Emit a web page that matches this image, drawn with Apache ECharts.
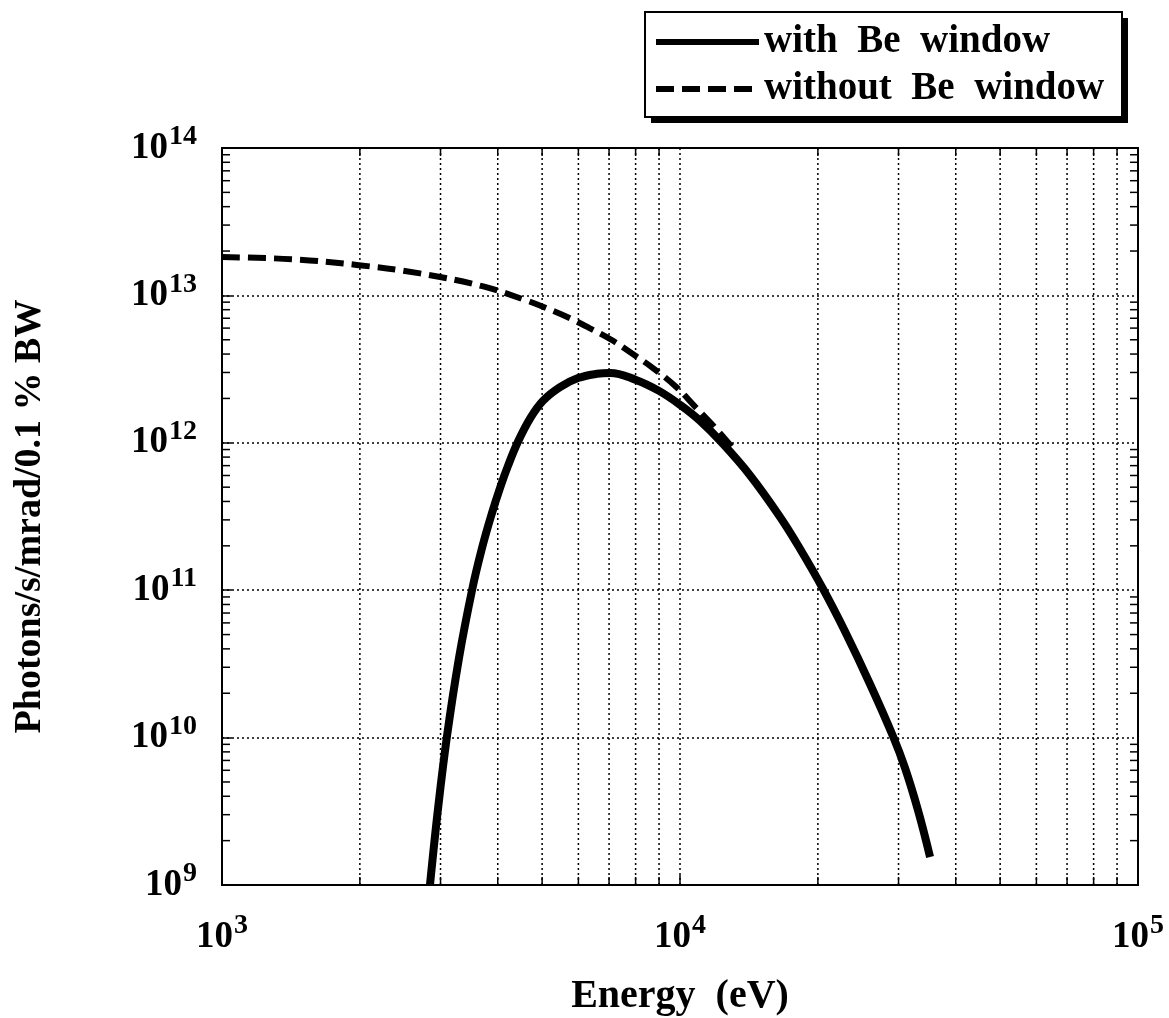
<!DOCTYPE html>
<html>
<head>
<meta charset="utf-8">
<script src="https://cdn.jsdelivr.net/npm/echarts@6/dist/echarts.min.js"></script>
<style>
html, body { margin: 0; padding: 0; background: #fff; }
#chart { width: 1169px; height: 1018px; }
</style>
</head>
<body>
<div id="chart"></div>
<script>
// values (energy in eV, flux in photons/s/mrad/0.1%BW)
var energy_with = [2845, 2962, 3100, 3292, 3515, 3696, 3886, 4046, 4213, 4430, 4705, 5022, 5470, 5988, 6588, 7035,
                   8014, 8998, 10050, 11058, 12350, 14215, 16537, 18281, 20525, 22930, 25990, 29180, 30990, 33090, 35156];
var flux_with = [1.0e9, 3.28e9, 1.03e10, 3.47e10, 1.0e11, 1.93e11, 3.34e11, 4.94e11, 7.0e11, 1.02e12, 1.46e12, 1.93e12, 2.39e12, 2.75e12, 2.94e12, 2.98e12,
                 2.67e12, 2.25e12, 1.79e12, 1.41e12, 1.0e12, 6.03e11, 3.14e11, 1.91e11, 1.02e11, 5.24e10, 2.31e10, 1.02e10, 6.23e9, 3.21e9, 1.55e9];

var energy_without = [1000, 1420, 1968, 2706, 3720, 4587, 5117, 5753, 6361, 7095, 7845, 8744, 9801, 10786, 11925, 12971];
var flux_without = [1.82e13, 1.76e13, 1.61e13, 1.41e13, 1.15e13, 9.31e12, 8.18e12, 6.99e12, 5.98e12, 4.98e12, 4.05e12, 3.2e12, 2.4e12, 1.76e12, 1.27e12, 9.41e11];

// minor grid positions (2..9 in each decade)
var minor_x = [2000, 3000, 4000, 5000, 6000, 7000, 8000, 9000, 20000, 30000, 40000, 50000, 60000, 70000, 80000, 90000];
var minor_y = [2e9, 3e9, 4e9, 5e9, 6e9, 7e9, 8e9, 9e9,
               2e10, 3e10, 4e10, 5e10, 6e10, 7e10, 8e10, 9e10,
               2e11, 3e11, 4e11, 5e11, 6e11, 7e11, 8e11, 9e11,
               2e12, 3e12, 4e12, 5e12, 6e12, 7e12, 8e12, 9e12,
               2e13, 3e13, 4e13, 5e13, 6e13, 7e13, 8e13, 9e13];

var x_min = 1000, x_max = 100000, y_min = 1e9, y_max = 1e14;
var name_with = 'with  Be  window';
var name_without = 'without  Be  window';

var FONT = 'Liberation Serif';
var DOT = [2, 3];

function zip(xs, ys) {
    return xs.map(function (x, i) { return [x, ys[i]]; });
}

function powLabel(v) {
    var e = Math.round(Math.log10(v));
    return '{b|10}{s|' + e + '}';
}

var labelRich = {
    b: { fontFamily: FONT, fontWeight: 'bold', fontSize: 37, color: '#000', lineHeight: 40 },
    s: { fontFamily: FONT, fontWeight: 'bold', fontSize: 28, color: '#000', padding: [0, 0, 22, 1], lineHeight: 40 }
};

function renderMinorX(params, api) {
    var v = api.value(0);
    var b = api.coord([v, y_min]);
    var t = api.coord([v, y_max]);
    return {
        type: 'group',
        children: [
            { type: 'line', shape: { x1: b[0], y1: b[1], x2: t[0], y2: t[1] }, style: { stroke: '#000', lineWidth: 1.5, lineDash: DOT } },
            { type: 'line', shape: { x1: b[0], y1: b[1], x2: b[0], y2: b[1] - 8 }, style: { stroke: '#000', lineWidth: 1.5 } },
            { type: 'line', shape: { x1: t[0], y1: t[1], x2: t[0], y2: t[1] + 8 }, style: { stroke: '#000', lineWidth: 1.5 } }
        ]
    };
}

function renderMinorY(params, api) {
    var v = api.value(1);
    var l = api.coord([x_min, v]);
    var r = api.coord([x_max, v]);
    return {
        type: 'group',
        children: [
            { type: 'line', shape: { x1: l[0], y1: l[1], x2: l[0] + 8, y2: l[1] }, style: { stroke: '#000', lineWidth: 1.5 } },
            { type: 'line', shape: { x1: r[0], y1: r[1], x2: r[0] - 8, y2: r[1] }, style: { stroke: '#000', lineWidth: 1.5 } }
        ]
    };
}

var chart = echarts.init(document.getElementById('chart'), null, { renderer: 'canvas' });

var option = {
    backgroundColor: '#fff',
    animation: false,
    // legend frame with a hard drop shadow
    graphic: [
        { type: 'rect', z: 0, silent: true, shape: { x: 651, y: 18, width: 477, height: 105 }, style: { fill: '#000' } },
        { type: 'rect', z: 1, silent: true, shape: { x: 645, y: 12, width: 477, height: 105 }, style: { fill: '#fff', stroke: '#000', lineWidth: 2 } }
    ],
    grid: {
        left: 222, right: 31, top: 148, bottom: 133,
        containLabel: false,
        outerBoundsMode: 'none',
        show: true, borderColor: '#000', borderWidth: 2, backgroundColor: 'transparent'
    },
    legend: {
        orient: 'vertical',
        left: 645, top: 14,
        padding: [8, 17, 10, 8],
        itemGap: 7,
        itemWidth: 103,
        itemHeight: 20,
        z: 10,
        selectedMode: false,
        textStyle: { fontFamily: FONT, fontWeight: 'bold', fontSize: 39, color: '#000', lineHeight: 40 },
        lineStyle: { width: 6 },
        itemStyle: { color: 'rgba(0,0,0,0)', borderWidth: 0, opacity: 0 },
        data: [name_with, name_without]
    },
    xAxis: {
        type: 'log',
        logBase: 10,
        min: x_min,
        max: x_max,
        name: 'Energy  (eV)',
        nameLocation: 'middle',
        nameGap: 92,
        nameTextStyle: { fontFamily: FONT, fontWeight: 'bold', fontSize: 40, color: '#000' },
        axisLine: { lineStyle: { color: '#000', width: 2 } },
        axisTick: { inside: true, length: 10, lineStyle: { color: '#000', width: 1.5 } },
        splitLine: { show: true, lineStyle: { color: '#000', width: 1.5, type: DOT } },
        axisLabel: { margin: 32, formatter: powLabel, rich: labelRich }
    },
    yAxis: {
        type: 'log',
        logBase: 10,
        min: y_min,
        max: y_max,
        name: 'Photons/s/mrad/0.1 % BW',
        nameLocation: 'middle',
        nameGap: 173,
        nameRotate: 90,
        nameTextStyle: { fontFamily: FONT, fontWeight: 'bold', fontSize: 38, color: '#000' },
        axisLine: { lineStyle: { color: '#000', width: 2 } },
        axisTick: { inside: true, length: 10, lineStyle: { color: '#000', width: 1.5 } },
        splitLine: { show: true, lineStyle: { color: '#000', width: 1.5, type: DOT } },
        axisLabel: { margin: 25, formatter: powLabel, rich: labelRich }
    },
    series: [
        {
            type: 'custom',
            silent: true,
            renderItem: renderMinorX,
            data: minor_x.map(function (v) { return [v, y_min]; }),
            z: 1
        },
        {
            type: 'custom',
            silent: true,
            renderItem: renderMinorY,
            data: minor_y.map(function (v) { return [x_min, v]; }),
            z: 1
        },
        {
            name: name_without,
            type: 'line',
            data: zip(energy_without, flux_without),
            showSymbol: false,
            symbol: 'none',
            smooth: 0.4,
            lineStyle: { color: '#000', width: 6, type: [18, 8] },
            itemStyle: { color: '#000' },
            z: 3
        },
        {
            name: name_with,
            type: 'line',
            data: zip(energy_with, flux_with),
            showSymbol: false,
            symbol: 'none',
            smooth: 0.4,
            lineStyle: { color: '#000', width: 8 },
            itemStyle: { color: '#000' },
            z: 4
        }
    ]
};

chart.setOption(option);
</script>
</body>
</html>
